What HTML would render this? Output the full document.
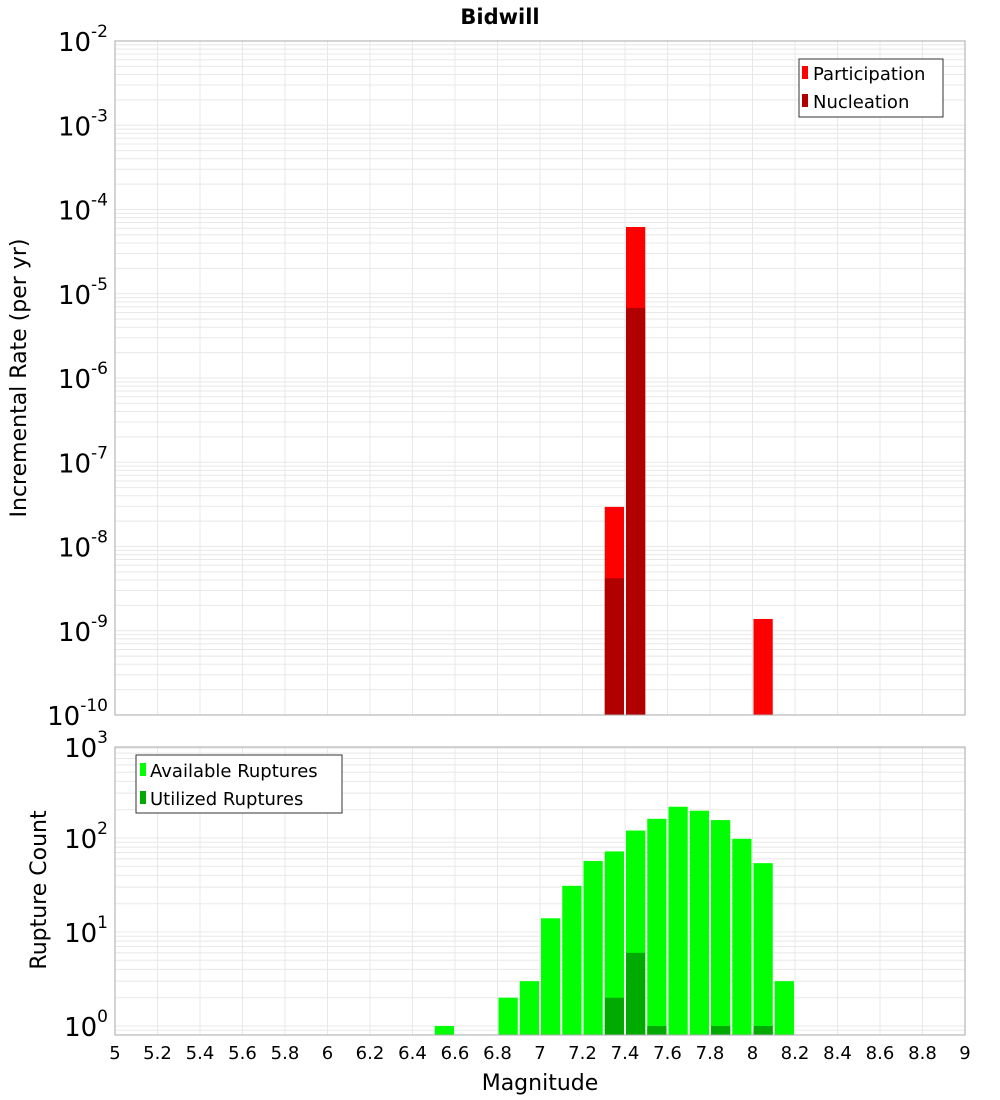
<!DOCTYPE html>
<html><head><meta charset="utf-8"><style>
body{margin:0;background:#fff;}
svg{display:block;font-family:"DejaVu Sans","Liberation Sans",sans-serif;}
</style></head><body>
<svg id="c" width="1000" height="1100" xmlns="http://www.w3.org/2000/svg">
<text x="500" y="24" text-anchor="middle" font-size="21" font-weight="bold">Bidwill</text>
<g id="topPanel"></g>
<g id="botPanel"></g>
<text transform="translate(26,378) rotate(-90)" text-anchor="middle" font-size="22">Incremental Rate (per yr)</text>
<text transform="translate(46,890) rotate(-90)" text-anchor="middle" font-size="22">Rupture Count</text>
<text x="540" y="1090" text-anchor="middle" font-size="22">Magnitude</text>
<g>
<rect x="799" y="59" width="144" height="58" fill="#fff" stroke="#333"/>
<rect x="802" y="66" width="6" height="13" fill="#ff0000"/>
<text x="813" y="80" font-size="18">Participation</text>
<rect x="802" y="94" width="6" height="13" fill="#b00000"/>
<text x="813" y="108" font-size="18">Nucleation</text>
</g>
<g>
<rect x="136" y="755" width="206" height="58" fill="#fff" stroke="#333"/>
<rect x="140" y="763" width="6" height="13" fill="#00ff00"/>
<text x="150" y="777" font-size="18">Available Ruptures</text>
<rect x="140" y="791" width="6" height="13" fill="#00aa00"/>
<text x="150" y="805" font-size="18">Utilized Ruptures</text>
</g>
</svg>
<script>
const xTicks=[5,5.2,5.4,5.6,5.8,6,6.2,6.4,6.6,6.8,7,7.2,7.4,7.6,7.8,8,8.2,8.4,8.6,8.8,9];
const partMags=[7.35,7.45,8.05];
const partVals=[2.95e-8,6.2e-5,1.38e-9];
const nuclMags=[7.35,7.45];
const nuclVals=[4.2e-9,6.8e-6];
const availMags=[6.55,6.85,6.95,7.05,7.15,7.25,7.35,7.45,7.55,7.65,7.75,7.85,7.95,8.05,8.15];
const availVals=[1,2,3,14,31,57,72,120,160,215,195,155,98,54,3];
const usedMags=[7.35,7.45,7.55,7.85,8.05];
const usedVals=[2,6,1,1,1];
const topExps=[-2,-3,-4,-5,-6,-7,-8,-9,-10];
const botExps=[3,2,1,0];

const NS="http://www.w3.org/2000/svg";
const X0=115,X1=965;
const sx=m=>X0+(m-5)/4*(X1-X0);
const T0=41,T1=715;
const syT=v=>T0+(-2-Math.log10(v))*(T1-T0)/8;
const B0=747,B1=1035;
const syB=v=>1026-94*Math.log10(v);
function mk(p,tag,a){const e=document.createElementNS(NS,tag);for(const k in a)e.setAttribute(k,a[k]);p.appendChild(e);return e;}
function panel(g,y0,y1,sy,eLo,eHi){
  for(let e=eLo;e<eHi;e++)for(let k=1;k<10;k++){const y=sy(k*Math.pow(10,e));if(y<y0||y>y1)continue;
    const l=mk(g,'line',{x1:X0,x2:X1,y1:y,y2:y,stroke:'#e8e8e8','stroke-width':1});
    
    }
  xTicks.forEach(t=>{const l=mk(g,'line',{x1:sx(t),x2:sx(t),y1:y0,y2:y1,stroke:'#e8e8e8'});
    
    });
}
function bar(g,m,v,base,sy,col,name){
  const x=sx(m-0.05)+1,w=sx(m+0.05)-sx(m-0.05)-2,y=sy(v);
  const r=mk(g,'rect',{x:x,y:y,width:w,height:base-y,fill:col});
  
  
}
function ylab(p,y,e,name){
  const t=mk(p,'text',{x:108,y:y+10,'text-anchor':'end','font-size':26});
  
  
  t.textContent='10';
  const s=mk(t,'tspan',{dy:-14,'font-size':17});s.textContent=String(e);
}
const topG=document.getElementById('topPanel'),botG=document.getElementById('botPanel');
panel(topG,T0,T1,syT,-10,-2);
partMags.forEach((m,i)=>bar(topG,m,partVals[i],T1,syT,'#ff0000','participation-bar'));
nuclMags.forEach((m,i)=>bar(topG,m,nuclVals[i],T1,syT,'#b00000','nucleation-bar'));
mk(topG,'rect',{x:X0,y:T0,width:X1-X0,height:T1-T0,fill:'none',stroke:'#aaa'});
topExps.forEach(e=>ylab(topG,syT(Math.pow(10,e)),e,'y-tick-label-top'));
panel(botG,B0,B1,syB,-1,3);
availMags.forEach((m,i)=>bar(botG,m,availVals[i],B1,syB,'#00ff00','available-bar'));
usedMags.forEach((m,i)=>bar(botG,m,usedVals[i],B1,syB,'#00aa00','utilized-bar'));
mk(botG,'rect',{x:X0,y:B0,width:X1-X0,height:B1-B0,fill:'none',stroke:'#aaa'});
botExps.forEach(e=>ylab(botG,Math.max(syB(Math.pow(10,e)),B0),e,'y-tick-label-bottom'));
xTicks.forEach(t=>{const s=mk(botG,'text',{x:sx(t),y:1059,'text-anchor':'middle','font-size':18});
  
  
  s.textContent=String(t);});
</script>
</body></html>
